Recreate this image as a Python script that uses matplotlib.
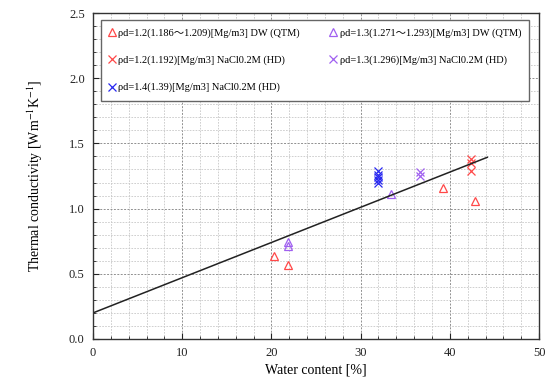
import numpy as np
import matplotlib
matplotlib.use("Agg")
import matplotlib.pyplot as plt
from matplotlib.ticker import MultipleLocator

plt.rcParams["font.family"] = ["Liberation Serif", "Noto Sans CJK JP", "DejaVu Serif"]
plt.rcParams["mathtext.fontset"] = "stix"

# data
dw12_x = [20.3, 21.8, 39.2, 42.8]
dw12_y = [0.64, 0.57, 1.16, 1.06]
dw13_x = [21.8, 21.8, 33.4]
dw13_y = [0.74, 0.71, 1.11]
nacl12_x = [42.4, 42.4, 42.4]
nacl12_y = [1.38, 1.35, 1.29]
nacl13_x = [36.7, 36.7]
nacl13_y = [1.28, 1.25]
nacl14_x = [32.0, 32.0, 32.0, 32.0, 32.0]
nacl14_y = [1.29, 1.26, 1.24, 1.22, 1.20]
fit_x = [0, 44.2]
fit_intercept = 0.2
fit_slope = 0.027

labels = [
    "ρd=1.2(1.186～1.209)[Mg/m3] DW (QTM)",
    "ρd=1.3(1.271～1.293)[Mg/m3] DW (QTM)",
    "ρd=1.2(1.192)[Mg/m3] NaCl0.2M (HD)",
    "ρd=1.3(1.296)[Mg/m3] NaCl0.2M (HD)",
    "ρd=1.4(1.39)[Mg/m3] NaCl0.2M (HD)",
]

fig = plt.figure(figsize=(5.54, 3.83), dpi=100)
ax = fig.add_axes([0.168, 0.115, 0.805, 0.851])

ms = 6
h1, = ax.plot(dw12_x, dw12_y, ls="none", marker="^", mfc="none", mec="#ff4848", ms=ms, mew=0.9)
h2, = ax.plot(dw13_x, dw13_y, ls="none", marker="^", mfc="none", mec="#a060f0", ms=ms, mew=0.9)
h3, = ax.plot(nacl12_x, nacl12_y, ls="none", marker="x", color="#ff4848", ms=ms, mew=0.9)
h4, = ax.plot(nacl13_x, nacl13_y, ls="none", marker="x", color="#a060f0", ms=ms, mew=0.9)
h5, = ax.plot(nacl14_x, nacl14_y, ls="none", marker="x", color="#2828f0", ms=ms, mew=0.9)

fx = np.array(fit_x)
ax.plot(fx, fit_intercept + fit_slope * fx, color="#222222", lw=1.1)

ax.set_xlim(0, 50)
ax.set_ylim(0, 2.5)
ax.xaxis.set_major_locator(MultipleLocator(10))
ax.xaxis.set_minor_locator(MultipleLocator(2))
ax.yaxis.set_major_locator(MultipleLocator(0.5))
ax.yaxis.set_minor_locator(MultipleLocator(0.1))
ax.yaxis.set_major_formatter(matplotlib.ticker.FormatStrFormatter("%.1f"))

ax.grid(which="major", ls=(0, (2, 1.5)), color="#909090", lw=0.7)
ax.grid(which="minor", ls=(0, (2, 1.5)), color="#c8c8c8", lw=0.6)
ax.set_axisbelow(True)
ax.tick_params(which="both", direction="in", labelsize=9, colors="#222222")
ax.tick_params(which="major", length=4)
ax.tick_params(which="minor", length=2)
ax.tick_params(axis="both", pad=6)
for s in ax.spines.values():
    s.set_linewidth(1.0)
    s.set_color("#333333")

ax.set_xlabel("Water content [%]", fontsize=10, labelpad=3)
ax.set_ylabel("Thermal conductivity [Wm$^{-1}$K$^{-1}$]", fontsize=10, labelpad=17)

# legend fills column by column, so order handles to read row-wise
leg = ax.legend([h1, h3, h5, h2, h4], [labels[0], labels[2], labels[4], labels[1], labels[3]],
                ncol=2, loc="upper left",
                bbox_to_anchor=(0.005, 0.995, 0.985, 0.0), mode="expand",
                fontsize=7.5, handlelength=0.6, handletextpad=0.3,
                labelspacing=1.7, borderpad=0.8, columnspacing=1.0,
                fancybox=False, framealpha=1.0, edgecolor="#666666")
leg.get_frame().set_linewidth(1.0)

fig.savefig("out.png", dpi=100)
